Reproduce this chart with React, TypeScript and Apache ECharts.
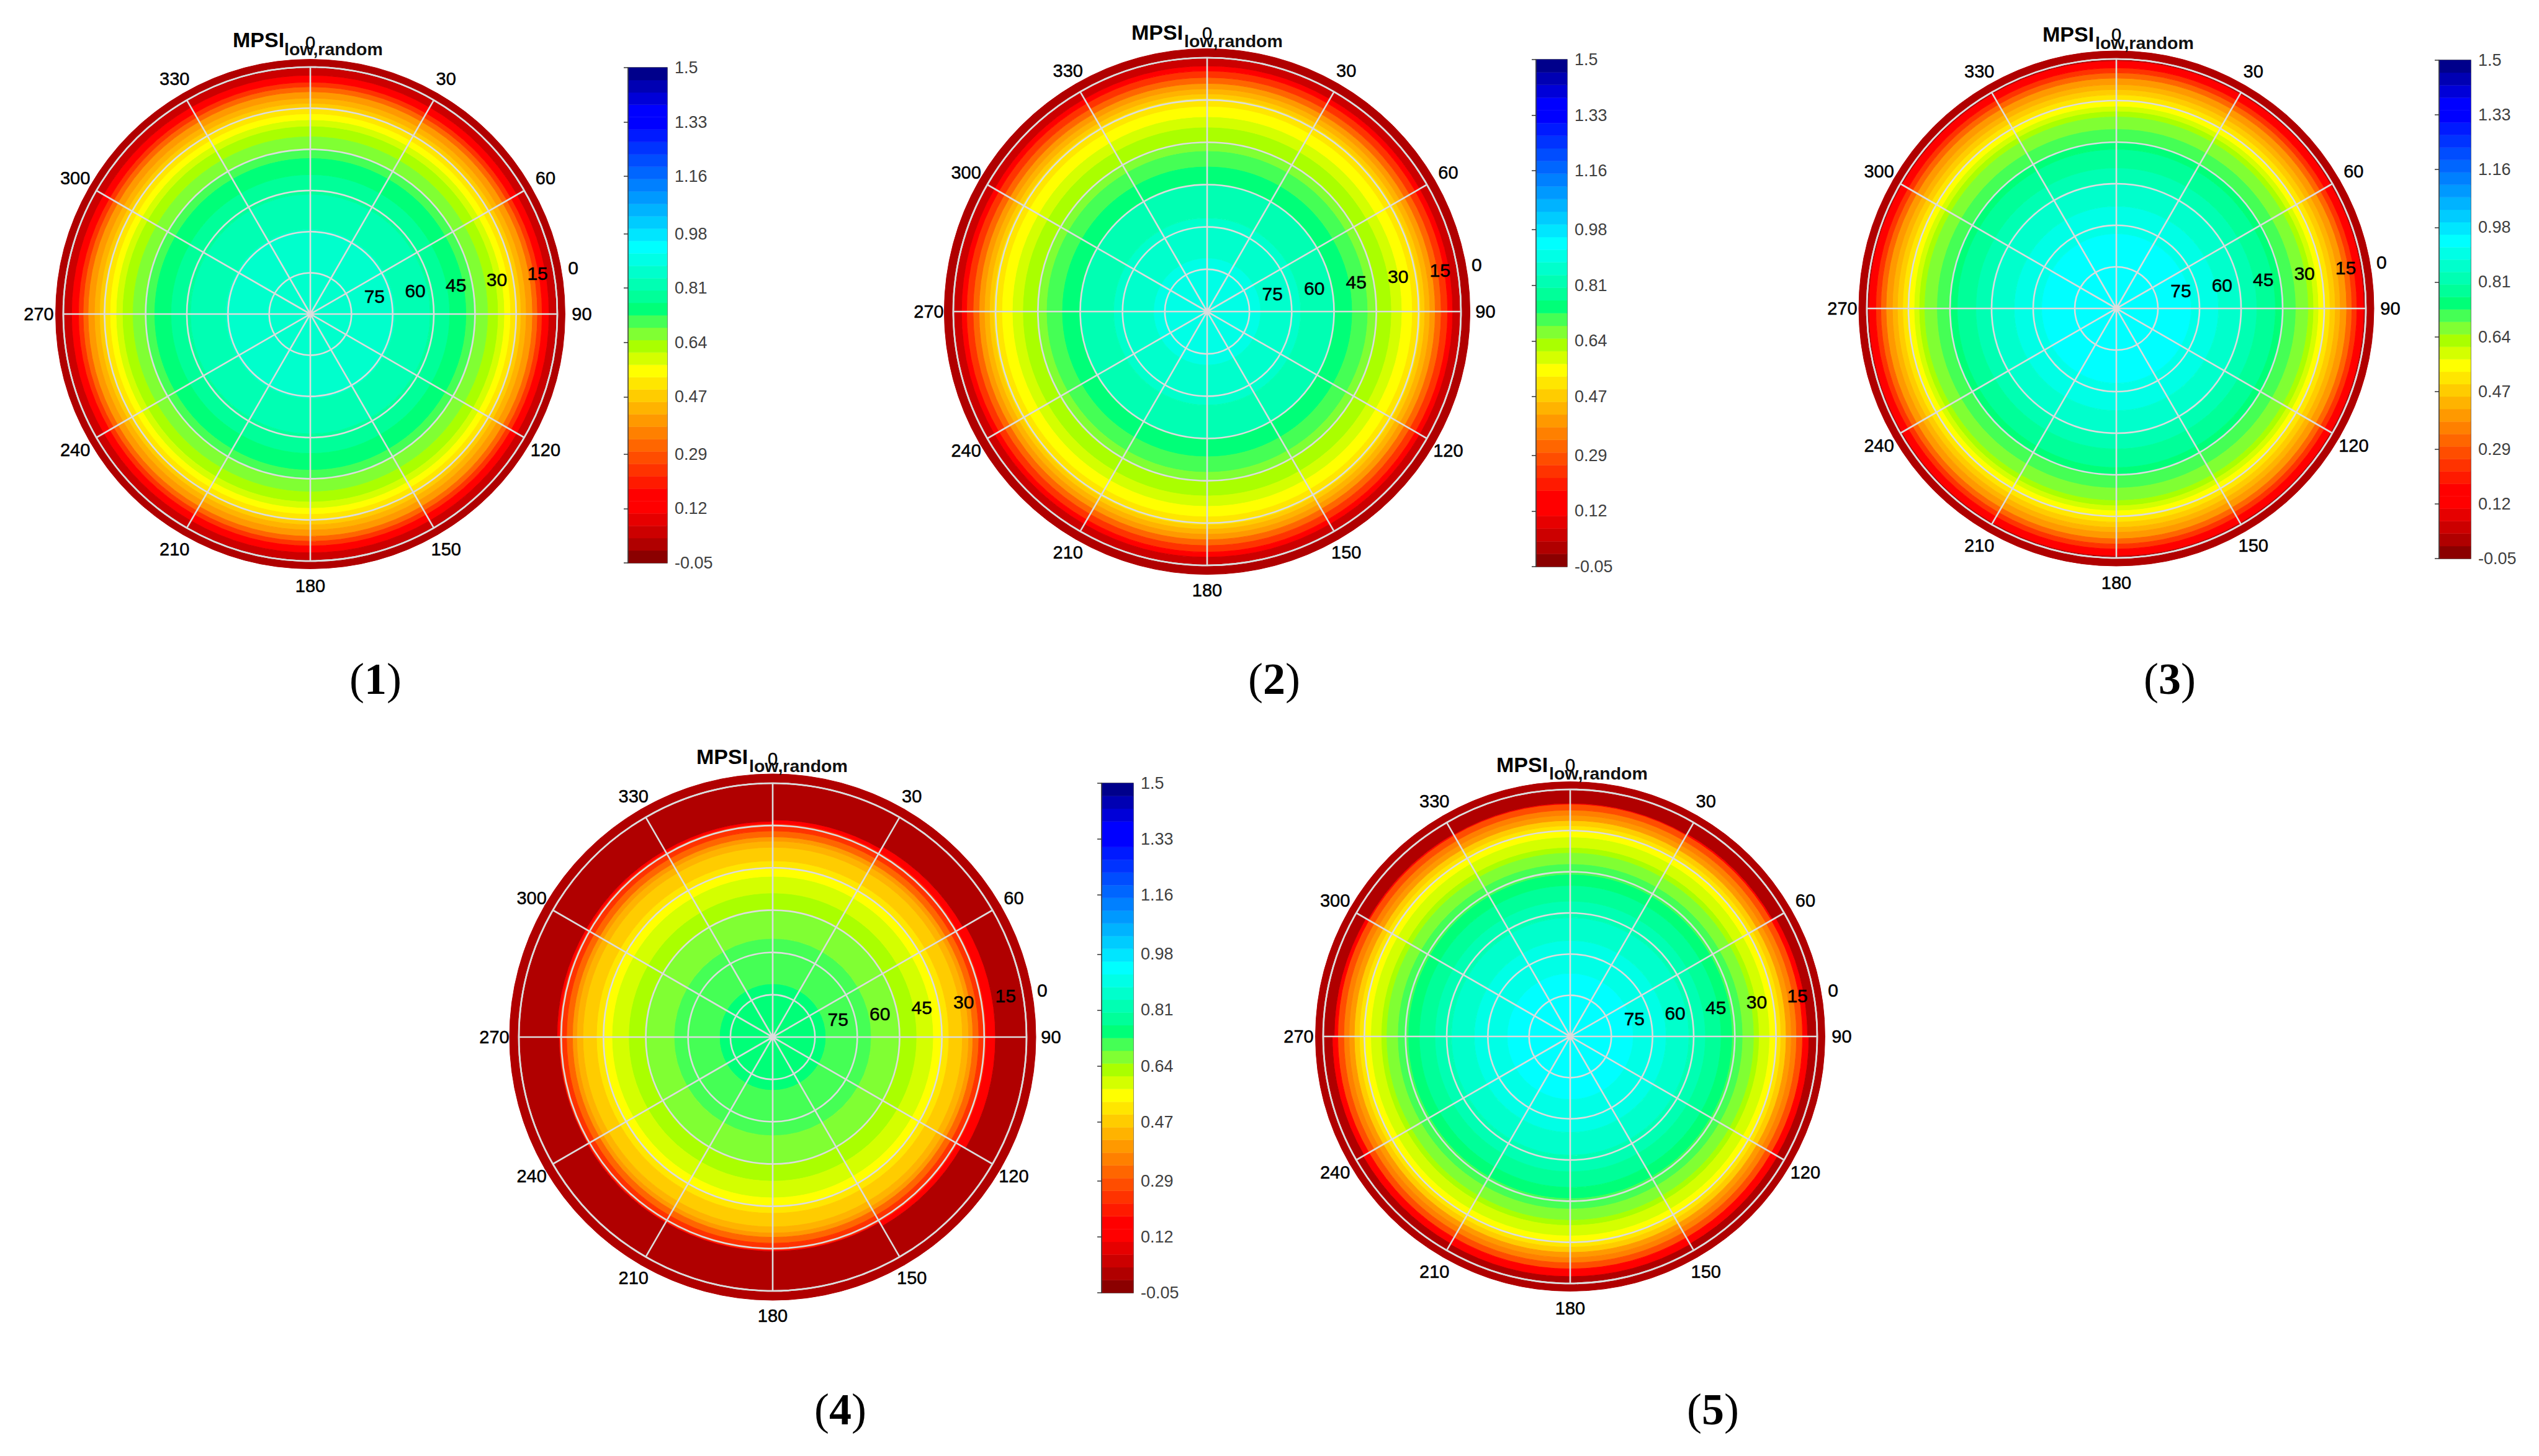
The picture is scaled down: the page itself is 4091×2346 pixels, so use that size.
import React, { useEffect, useRef } from "react";
import * as echarts from "echarts";

const FONT = "'Liberation Sans', Arial, sans-serif";
const SERIF = "'Liberation Serif', 'Times New Roman', serif";
const GRID_COLOR = "#dcdcdc";

// Colour levels, from -0.05 (bottom of the colour bar) to 1.5 (top)
const LEVEL_MIN = -0.05;
const LEVEL_MAX = 1.5;
const palette = [
  "#8b0000", "#b00000", "#cc0000", "#e60000", "#ff0000", "#ff0000", "#ff1a00", "#ff3300",
  "#ff4d00", "#ff6600", "#ff8000", "#ff9900", "#ffb300", "#ffcc00", "#ffe600", "#ffff00",
  "#d4ff00", "#aaff00", "#80ff33", "#45ff55", "#00ff78", "#00ff99", "#00ffb3", "#00ffcc",
  "#00ffe6", "#00ffff", "#00e6ff", "#00ccff", "#00b3ff", "#0099ff", "#0080ff", "#0066ff",
  "#004dff", "#0033ff", "#001aff", "#0000ff", "#0000ff", "#0000d8", "#0000b3", "#00008b",
];
const colorbarTicks = [-0.05, 0.12, 0.29, 0.47, 0.64, 0.81, 0.98, 1.16, 1.33, 1.5];
const azimuthTicks = [0, 30, 60, 90, 120, 150, 180, 210, 240, 270, 300, 330];
const zenithTicks = [0, 15, 30, 45, 60, 75];
const zenithLabelAzimuth = 82;

// Radial profiles: MPSI value of each band from the centre outwards,
// and the zenith angle at the outer edge of that band.
const values1 = [0.86, 0.82, 0.78, 0.74, 0.71, 0.67, 0.63, 0.59, 0.55, 0.51, 0.47, 0.43, 0.4, 0.32, 0.24, 0.16, 0.05, 0.01];
const edges1 = [59.1, 46.3, 39.2, 33.1, 29.8, 25.2, 21.5, 19.2, 17, 14.7, 13.2, 11.3, 9, 7.2, 5.5, 3, 0.4, -2.8];
const values2 = [0.9, 0.86, 0.82, 0.74, 0.71, 0.67, 0.63, 0.59, 0.55, 0.51, 0.47, 0.43, 0.4, 0.32, 0.24, 0.16, 0.05, 0.01];
const edges2 = [71, 56.8, 45.1, 38.5, 33, 29.7, 24.6, 20.9, 17.2, 14.3, 12.8, 11, 9.1, 7, 4.7, 2.9, 0.3, -3.2];
const values3 = [0.94, 0.9, 0.86, 0.82, 0.78, 0.74, 0.71, 0.67, 0.63, 0.59, 0.55, 0.51, 0.47, 0.43, 0.4, 0.32, 0.24, 0.16, 0.01];
const edges3 = [63, 53.1, 44.5, 39.3, 32.6, 29.6, 25.2, 20.7, 18.8, 17, 15.1, 12.9, 11, 9.2, 6.9, 5, 3.2, 0.6, -2.9];
const values4 = [0.74, 0.71, 0.67, 0.63, 0.59, 0.55, 0.51, 0.47, 0.43, 0.4, 0.32, 0.24, 0.16, 0.01];
const edges4 = [71.1, 55, 45.1, 38.9, 33, 30.1, 27.5, 22.7, 20.5, 19, 16.9, 14.3, 11, -3.3];
const values5 = [0.94, 0.9, 0.86, 0.82, 0.78, 0.74, 0.71, 0.67, 0.63, 0.59, 0.55, 0.51, 0.47, 0.4, 0.36, 0.28, 0.16, 0.01];
const edges5 = [67, 55, 46.7, 40.7, 35, 30.9, 27.1, 23, 21.1, 17.3, 15.1, 13.2, 11.3, 9.4, 7.5, 5.3, 3, -2.8];

// Zenith of the inner edge of the outermost dark band, per 30-degree sector
// (clockwise from 0), where it visibly changes with azimuth.
const darkEdge4 = [13, 12, 11, 11, 12.5, 14, 14, 14, 14.2, 13.5, 13.5, 13.5];
const darkEdge5 = [5, 4.7, 3.5, 3, 2.7, 2.5, 2.5, 2.8, 3.3, 4, 4.8, 5];

const titleMain = "MPSI";
const titleSub = "low,random";

const panels = [
  { values: values1, edges: edges1, darkEdge: null, cx: 500, cy: 506, R: 398, main: [-125, -442], sub: [-42, -413], bar: [1012, 109, 63, 798], caption: "1", capPos: [605, 1094] },
  { values: values2, edges: edges2, darkEdge: null, cx: 1945, cy: 502, R: 409, main: [-122, -450], sub: [-37, -422], bar: [2475, 96, 50, 817], caption: "2", capPos: [2053, 1094] },
  { values: values3, edges: edges3, darkEdge: null, cx: 3410, cy: 497, R: 402, main: [-119, -442], sub: [-34, -414], bar: [3930, 97, 51, 803], caption: "3", capPos: [3496, 1094] },
  { values: values4, edges: edges4, darkEdge: darkEdge4, cx: 1245, cy: 1671, R: 409, main: [-123, -452], sub: [-38, -423], bar: [1775, 1262, 51, 821], caption: "4", capPos: [1354, 2271] },
  { values: values5, edges: edges5, darkEdge: darkEdge5, cx: 2530, cy: 1670, R: 398, main: [-119, -438], sub: [-34, -410], bar: [0, 0, 0, 0], caption: "5", capPos: [2760, 2271] },
];

function levelColor(v: number) {
  const i = Math.floor(((v - LEVEL_MIN) / (LEVEL_MAX - LEVEL_MIN)) * palette.length);
  return palette[Math.max(0, Math.min(palette.length - 1, i))];
}

function bandCells(p: any) {
  const cells: number[][] = [];
  azimuthTicks.forEach((az, s) => {
    const last = p.values.length - 1;
    p.values.forEach((v: number, i: number) => {
      const pick = (b: number) => (b === last - 1 && p.darkEdge ? p.darkEdge[s] : p.edges[b]);
      cells.push([pick(i), i === 0 ? 90 : pick(i - 1), az, az + 30, v]);
    });
  });
  return cells;
}

function buildOption() {
  const polar: any[] = [];
  const angleAxis: any[] = [];
  const radiusAxis: any[] = [];
  const grid: any[] = [];
  const xAxis: any[] = [];
  const yAxis: any[] = [];
  const series: any[] = [];
  const graphic: any[] = [];

  const lineW = 2.6;
  panels.forEach((p, k) => {
    polar.push({ center: [p.cx, p.cy], radius: p.R });
    angleAxis.push({
      polarIndex: k,
      type: "value",
      min: 0,
      max: 360,
      interval: 30,
      startAngle: 90,
      clockwise: true,
      z: 10,
      axisLine: { show: true, lineStyle: { color: GRID_COLOR, width: lineW } },
      axisTick: { show: false },
      splitLine: { show: true, lineStyle: { color: GRID_COLOR, width: lineW } },
      axisLabel: { show: false },
    });
    radiusAxis.push({
      polarIndex: k,
      type: "value",
      inverse: true,
      min: 0,
      max: 90,
      interval: 15,
      z: 10,
      axisLine: { show: false },
      axisTick: { show: false },
      axisLabel: { show: false },
      splitLine: { show: true, lineStyle: { color: GRID_COLOR, width: lineW } },
    });

    // Heat bands
    series.push({
      type: "custom",
      coordinateSystem: "polar",
      polarIndex: k,
      clip: false,
      silent: true,
      z: 2,
      encode: { radius: [0, 1], angle: [2, 3] },
      data: bandCells(p),
      renderItem: (_: any, api: any) => {
        const outerStart = api.coord([api.value(0), api.value(2)]);
        const outerEnd = api.coord([api.value(0), api.value(3)]);
        const inner = api.coord([api.value(1), api.value(2)]);
        const color = levelColor(api.value(4));
        return {
          type: "sector",
          shape: {
            cx: p.cx,
            cy: p.cy,
            r0: inner[2],
            r: outerStart[2],
            startAngle: -outerStart[3],
            endAngle: -outerEnd[3],
            clockwise: true,
          },
          style: { fill: color, stroke: color, lineWidth: 1 },
        };
      },
    });

    // Zenith labels along the 82-degree azimuth
    series.push({
      type: "custom",
      coordinateSystem: "polar",
      polarIndex: k,
      clip: false,
      silent: true,
      z: 20,
      data: zenithTicks.map((z) => [z, zenithLabelAzimuth]),
      renderItem: (_: any, api: any) => {
        const pt = api.coord([api.value(0), api.value(1)]);
        return {
          type: "text",
          z2: 50,
          style: {
            text: String(api.value(0)),
            x: pt[0] + 21,
            y: pt[1] - 19,
            align: "left",
            verticalAlign: "middle",
            fontSize: 30,
            fontFamily: FONT,
            fill: "#000",
            stroke: "#000",
            lineWidth: 0.5,
          },
        };
      },
    });

    // Azimuth labels just outside the plot
    const labelGap = (39.5 * 90) / p.R;
    series.push({
      type: "custom",
      coordinateSystem: "polar",
      polarIndex: k,
      clip: false,
      silent: true,
      z: 20,
      data: azimuthTicks.map((a) => [-labelGap, a]),
      renderItem: (_: any, api: any) => {
        const pt = api.coord([api.value(0), api.value(1)]);
        return {
          type: "text",
          z2: 50,
          style: {
            text: String(api.value(1)),
            x: pt[0],
            y: pt[1],
            align: "center",
            verticalAlign: "middle",
            fontSize: 29,
            fontFamily: FONT,
            fill: "#000",
            stroke: "#000",
            lineWidth: 0.5,
          },
        };
      },
    });

    graphic.push({
      type: "text",
      x: p.cx + p.main[0],
      y: p.cy + p.main[1],
      z: 30,
      style: { text: titleMain, font: `bold 34px ${FONT}`, fill: "#000", verticalAlign: "middle" },
    });
    graphic.push({
      type: "text",
      x: p.cx + p.sub[0],
      y: p.cy + p.sub[1],
      z: 30,
      style: { text: titleSub, font: `bold 28.5px ${FONT}`, fill: "#111", verticalAlign: "bottom" },
    });
    graphic.push({
      type: "text",
      x: p.capPos[0],
      y: p.capPos[1],
      style: {
        text: `{a|(}{b|${p.caption}}{a|)}`,
        align: "center",
        verticalAlign: "middle",
        rich: {
          a: { font: `72px ${SERIF}`, fill: "#000" },
          b: { font: `bold 72px ${SERIF}`, fill: "#000" },
        },
      },
    });
  });

  // Colour bars (panels 1-4)
  panels
    .filter((p) => p.bar[2] > 0)
    .forEach((p, idx) => {
      const [left, top, width, height] = p.bar;
      grid.push({
        left,
        top,
        width,
        height,
        show: true,
        borderColor: "#444",
        borderWidth: 1.5,
        backgroundColor: "transparent",
      });
      xAxis.push({ gridIndex: idx, type: "value", min: 0, max: 1, show: false });
      yAxis.push({
        gridIndex: idx,
        type: "value",
        position: "right",
        min: LEVEL_MIN,
        max: LEVEL_MAX,
        z: 10,
        axisLine: { show: true, lineStyle: { color: "#444", width: 1.5 } },
        splitLine: { show: false },
        axisTick: {
          show: true,
          inside: true,
          length: 7,
          customValues: colorbarTicks,
          lineStyle: { color: "#333", width: 1.5 },
        },
        axisLabel: {
          show: true,
          inside: false,
          margin: 12,
          customValues: colorbarTicks,
          formatter: (v: number) => String(v),
          fontSize: 27,
          fontFamily: FONT,
          color: "#404040",
          align: "left",
          showMinLabel: true,
          showMaxLabel: true,
        },
      });
      const step = (LEVEL_MAX - LEVEL_MIN) / palette.length;
      series.push({
        type: "custom",
        coordinateSystem: "cartesian2d",
        xAxisIndex: idx,
        yAxisIndex: idx,
        silent: true,
        z: 2,
        data: palette.map((_, i) => [LEVEL_MIN + i * step, LEVEL_MIN + (i + 1) * step, i]),
        renderItem: (_: any, api: any) => {
          const a = api.coord([0, api.value(0)]);
          const b = api.coord([1, api.value(1)]);
          const color = palette[api.value(2)];
          return {
            type: "rect",
            shape: { x: a[0], y: b[1], width: b[0] - a[0], height: a[1] - b[1] },
            style: { fill: color, stroke: color, lineWidth: 0.5 },
          };
        },
      });
    });

  return { animation: false, backgroundColor: "#fff", polar, angleAxis, radiusAxis, grid, xAxis, yAxis, series, graphic };
}

export default function App() {
  const ref = useRef<HTMLDivElement>(null);
  useEffect(() => {
    document.body.style.margin = "0";
    const chart = echarts.init(ref.current!, undefined, { renderer: "svg" });
    chart.setOption(buildOption() as any);
    return () => chart.dispose();
  }, []);
  return <div ref={ref} style={{ position: "absolute", left: 0, top: 0, width: 4091, height: 2346 }} />;
}
